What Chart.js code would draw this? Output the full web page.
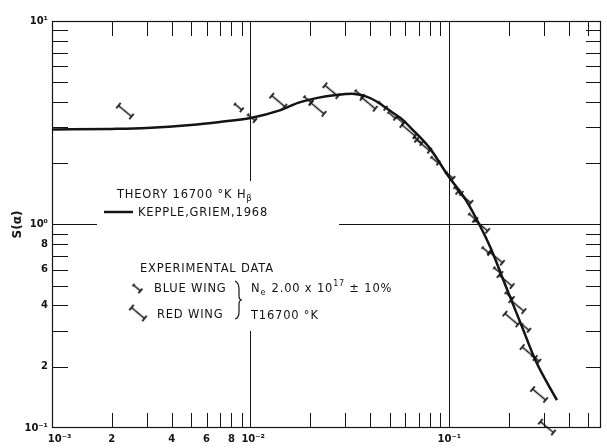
<!DOCTYPE html>
<html lang="en">
<head>
  <meta charset="UTF-8" />
  <title>S(α) profile, Hβ 16700 °K</title>
  <script src="https://cdn.jsdelivr.net/npm/chart.js"></script>
  <style>
    body { margin: 0; background: #fff; }
    #wrap { position: relative; width: 607px; height: 448px; }
  </style>
</head>
<body>
  <div id="wrap"><canvas id="profile"></canvas></div>

  <script>
    // theory curve (Kepple, Griem 1968)
    const theoryAlpha = [0.001, 0.002, 0.003, 0.005, 0.007, 0.01, 0.014, 0.0173, 0.0217, 0.027,
      0.0324, 0.038, 0.0433, 0.0507, 0.0587, 0.0634, 0.08, 0.0984, 0.1216, 0.1416,
      0.162, 0.192, 0.233, 0.272, 0.348];
    const theoryS = [2.93, 2.95, 2.98, 3.08, 3.19, 3.34, 3.64, 3.96, 4.19, 4.33,
      4.39, 4.26, 4.01, 3.6, 3.25, 3.01, 2.36, 1.74, 1.31, 1.0,
      0.76, 0.50, 0.312, 0.214, 0.137];

    // experimental data
    const blueAlpha = [0.00867, 0.0101, 0.0194, 0.0351, 0.0459, 0.0514, 0.0565, 0.0698, 0.0846,
      0.1005, 0.1105, 0.131, 0.153, 0.175, 0.2, 0.242, 0.272];
    const blueS = [3.78, 3.35, 4.11, 4.40, 3.85, 3.44, 3.25, 2.59, 2.07,
      1.74, 1.47, 1.09, 0.745, 0.593, 0.447, 0.312, 0.22];
    const redAlpha = [0.00233, 0.01377, 0.0217, 0.0255, 0.0393, 0.0623, 0.0738, 0.119, 0.1445,
      0.1716, 0.192, 0.2055, 0.22, 0.251, 0.283, 0.31];
    const redS = [3.61, 4.04, 3.72, 4.54, 3.94, 2.90, 2.45, 1.36, 0.99,
      0.69, 0.53, 0.343, 0.399, 0.235, 0.146, 0.101];

    // labelled ticks
    const xTickValues = [0.001, 0.002, 0.004, 0.006, 0.008, 0.01, 0.1];
    const xTickLabels = ['\u2002\u2002\u200210⁻³', '2', '4', '6', '8', '\u200210⁻²', '10⁻¹'];
    const yTickValues = [0.1, 0.2, 0.4, 0.6, 0.8, 1, 10];
    const yTickLabels = ['10⁻¹', '2', '4', '6', '8', '10⁰', '10¹'];
    const xGridAt = [0.01, 0.1];
    const yGridAt = [1];

    const ink = '#141414';
    const font = '"DejaVu Sans", sans-serif';

    // inward minor ticks, 2..9 in every decade
    function minorTicks(decades, max) {
      const out = [];
      decades.forEach(d => { for (let m = 2; m <= 9; m++) if (m * d <= max) out.push(m * d); });
      return out;
    }
    const xMinor = minorTicks([0.001, 0.01, 0.1], 0.58);
    const yMinor = minorTicks([0.1, 1], 10);

    // error-bar shaped markers
    function makeBeam(len, cap, capStart) {
      const c = document.createElement('canvas');
      c.width = len + 6; c.height = cap + 4;
      const g = c.getContext('2d');
      const x0 = 3, x1 = 3 + len, ym = c.height / 2;
      g.strokeStyle = ink; g.lineWidth = 1.7;
      g.beginPath();
      g.moveTo(x0, ym); g.lineTo(x1, ym);
      g.moveTo(x1, ym - cap / 2); g.lineTo(x1, ym + cap / 2);
      g.moveTo(x0, ym - capStart / 2); g.lineTo(x0, ym + capStart / 2);
      g.stroke();
      return c;
    }
    const redMark = makeBeam(17, 7, 7);
    const blueMark = makeBeam(9, 6, 3);
    const markAngle = 40;

    const pts = (xs, ys) => xs.map((x, i) => ({ x: x, y: ys[i] }));

    const sheet = {
      id: 'sheet',
      beforeDatasetsDraw(chart) {
        const { ctx, chartArea: a, scales: { x, y } } = chart;
        ctx.save();
        // legend area is kept clear of grid lines
        ctx.fillStyle = '#fff';
        ctx.fillRect(97, 181, 242, 150);

        ctx.strokeStyle = ink;
        ctx.lineWidth = 1;
        ctx.beginPath();
        xMinor.forEach(v => {
          const px = Math.round(x.getPixelForValue(v)) + 0.5;
          ctx.moveTo(px, a.bottom); ctx.lineTo(px, a.bottom - 15);
          ctx.moveTo(px, a.top); ctx.lineTo(px, a.top + 15);
        });
        yMinor.forEach(v => {
          const py = Math.round(y.getPixelForValue(v)) + 0.5;
          ctx.moveTo(a.left, py); ctx.lineTo(a.left + 16, py);
          ctx.moveTo(a.right, py); ctx.lineTo(a.right - 15, py);
        });
        ctx.stroke();
        ctx.lineWidth = 1.2;
        ctx.strokeRect(a.left + 0.5, a.top + 0.5, a.right - a.left - 1, a.bottom - a.top - 1);

        // legend
        ctx.fillStyle = ink;
        ctx.letterSpacing = '0.8px';
        ctx.textBaseline = 'alphabetic';
        const put = (s, px, py, size) => {
          ctx.font = size + 'px ' + font;
          ctx.fillText(s, px, py);
          return px + ctx.measureText(s).width;
        };
        let cx = put('THEORY 16700 °K H', 117, 198, 11.5);
        put('β', cx, 201, 8.5);

        ctx.lineWidth = 2.5;
        ctx.beginPath(); ctx.moveTo(104, 212); ctx.lineTo(133, 212); ctx.stroke();
        put('KEPPLE,GRIEM,1968', 138, 216, 11.5);

        put('EXPERIMENTAL DATA', 140, 272, 11.5);
        [[blueMark, 137, 288], [redMark, 138, 313]].forEach(([img, mx, my]) => {
          ctx.save();
          ctx.translate(mx, my);
          ctx.rotate(markAngle * Math.PI / 180);
          ctx.drawImage(img, -img.width / 2, -img.height / 2);
          ctx.restore();
        });
        put('BLUE WING', 154, 292, 11.5);
        put('RED WING', 157, 318, 11.5);

        ctx.lineWidth = 1.2;
        ctx.beginPath();
        ctx.moveTo(235, 281);
        ctx.quadraticCurveTo(239, 283, 239, 289);
        ctx.lineTo(239, 296);
        ctx.quadraticCurveTo(239, 300, 242, 300);
        ctx.quadraticCurveTo(239, 300, 239, 304);
        ctx.lineTo(239, 312);
        ctx.quadraticCurveTo(239, 318, 235, 319);
        ctx.stroke();

        cx = put('N', 251, 292, 11.5);
        cx = put('e', cx, 295, 8);
        cx = put(' 2.00 x 10', cx + 1, 292, 11.5);
        cx = put('17', cx, 286, 8);
        put(' ± 10%', cx, 292, 11.5);
        put('T16700 °K', 251, 319, 11.5);
        ctx.restore();
      }
    };

    new Chart(document.getElementById('profile'), {
      type: 'scatter',
      data: {
        datasets: [
          {
            label: 'Kepple, Griem 1968',
            data: pts(theoryAlpha, theoryS),
            showLine: true,
            borderColor: ink,
            borderWidth: 2.5,
            pointRadius: 0,
            cubicInterpolationMode: 'monotone'
          },
          {
            label: 'Blue wing',
            data: pts(blueAlpha, blueS),
            pointStyle: blueMark,
            rotation: markAngle,
            pointRadius: 5
          },
          {
            label: 'Red wing',
            data: pts(redAlpha, redS),
            pointStyle: redMark,
            rotation: markAngle,
            pointRadius: 5,
            clip: false
          }
        ]
      },
      options: {
        responsive: true,
        maintainAspectRatio: false,
        animation: false,
        events: [],
        layout: { padding: { top: 21, right: 1, left: 0, bottom: 0 } },
        plugins: { legend: { display: false }, tooltip: { enabled: false } },
        scales: {
          x: {
            type: 'logarithmic',
            min: 0.001,
            max: 0.58,
            afterBuildTicks: s => { s.ticks = xTickValues.map(v => ({ value: v })); },
            afterFit: s => { s.height = 20; },
            ticks: {
              callback: (v, i) => xTickLabels[i],
              autoSkip: false,
              maxRotation: 0,
              padding: 5,
              color: ink,
              font: { family: font, size: 10, weight: 'bold' }
            },
            grid: {
              drawTicks: false,
              lineWidth: 1,
              color: c => (c.tick && xGridAt.includes(c.tick.value)) ? ink : 'rgba(0,0,0,0)'
            },
            border: { display: false }
          },
          y: {
            type: 'logarithmic',
            min: 0.1,
            max: 10,
            afterBuildTicks: s => { s.ticks = yTickValues.map(v => ({ value: v })); },
            afterFit: s => { s.width = 52; },
            ticks: {
              callback: (v, i) => yTickLabels[i],
              autoSkip: false,
              padding: 4,
              color: ink,
              font: { family: font, size: 10, weight: 'bold' }
            },
            grid: {
              drawTicks: false,
              lineWidth: 1,
              color: c => (c.tick && yGridAt.includes(c.tick.value)) ? ink : 'rgba(0,0,0,0)'
            },
            border: { display: false },
            title: {
              display: true,
              text: 'S(α)',
              color: ink,
              padding: { top: 11, bottom: 0 },
              font: { family: font, size: 12, weight: 'bold' }
            }
          }
        }
      },
      plugins: [sheet]
    });
  </script>
</body>
</html>
